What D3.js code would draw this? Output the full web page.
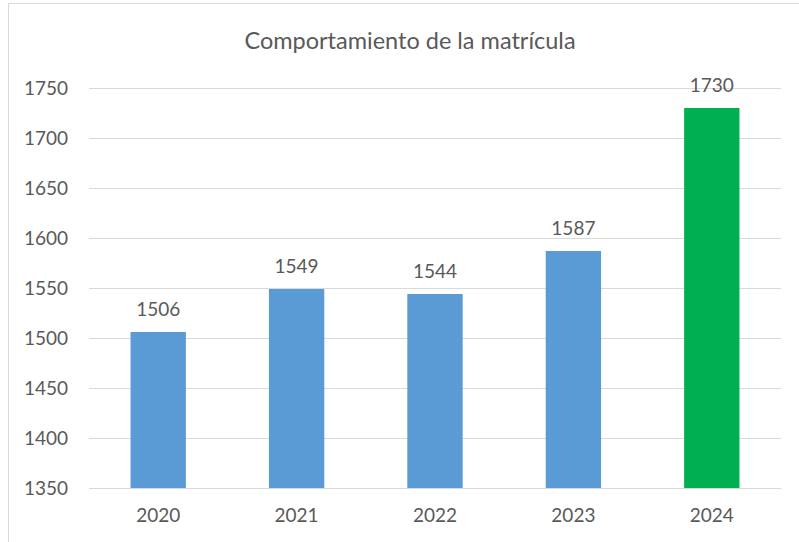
<!DOCTYPE html>
<html>
<head>
<meta charset="utf-8">
<script src="https://cdn.jsdelivr.net/npm/d3@7"></script>
<style>
  body { margin: 0; background: #fff; }
  text { font-family: Lato, "Open Sans", sans-serif; fill: #595959; }
</style>
</head>
<body>
<script>
const years = ["2020", "2021", "2022", "2023", "2024"];
const enrollment = [1506, 1549, 1544, 1587, 1730];
const barColors = ["#5b9bd5", "#5b9bd5", "#5b9bd5", "#5b9bd5", "#00b050"];
const yTicks = [1350, 1400, 1450, 1500, 1550, 1600, 1650, 1700, 1750];

const width = 799, height = 542;
const margin = { top: 88, right: 18, bottom: 54, left: 89 };
const innerW = width - margin.left - margin.right;
const innerH = height - margin.top - margin.bottom;

const svg = d3.select("body").append("svg")
  .attr("width", width)
  .attr("height", height);

// chart border
svg.append("rect")
  .attr("x", 8.5).attr("y", 3.5)
  .attr("width", 820).attr("height", 600)
  .attr("fill", "none")
  .attr("stroke", "#d9d9d9");

svg.append("text")
  .attr("x", 410).attr("y", 49)
  .attr("text-anchor", "middle")
  .style("font-size", "23.5px")
  .text("Comportamiento de la matrícula");

const g = svg.append("g")
  .attr("transform", "translate(" + margin.left + "," + margin.top + ")");

const x = d3.scaleBand().domain(years).range([0, innerW]).paddingInner(0.6).paddingOuter(0.3);
const y = d3.scaleLinear().domain([1350, 1750]).range([innerH, 0]);

// gridlines
g.append("g")
  .call(d3.axisLeft(y).tickValues(yTicks).tickSize(-innerW).tickFormat(""))
  .call(s => s.select(".domain").remove())
  .call(s => s.selectAll("line").attr("stroke", "#d9d9d9"));

// y labels
g.append("g")
  .attr("transform", "translate(-21,0)")
  .call(d3.axisLeft(y).tickValues(yTicks).tickFormat(d3.format("d")).tickSize(0).tickPadding(0))
  .call(s => s.select(".domain").remove())
  .call(s => s.selectAll("text").style("font-size", "19px").attr("dy", "0.36em"));

g.selectAll(".bar")
  .data(years)
  .join("rect")
  .attr("class", "bar")
  .attr("x", d => x(d))
  .attr("width", x.bandwidth())
  .attr("y", (d, i) => y(enrollment[i]))
  .attr("height", (d, i) => innerH - y(enrollment[i]))
  .attr("fill", (d, i) => barColors[i]);

g.selectAll(".val")
  .data(years)
  .join("text")
  .attr("class", "val")
  .attr("x", d => x(d) + x.bandwidth() / 2)
  .attr("y", (d, i) => y(enrollment[i]) - 16)
  .attr("text-anchor", "middle")
  .style("font-size", "19px")
  .text((d, i) => enrollment[i]);

// x axis
g.append("g")
  .attr("transform", "translate(0," + innerH + ")")
  .call(d3.axisBottom(x).tickSize(0).tickPadding(0))
  .call(s => s.select(".domain").attr("stroke", "#d9d9d9"))
  .call(s => s.selectAll("text").style("font-size", "19px").attr("dy", "34px"));
</script>
</body>
</html>
